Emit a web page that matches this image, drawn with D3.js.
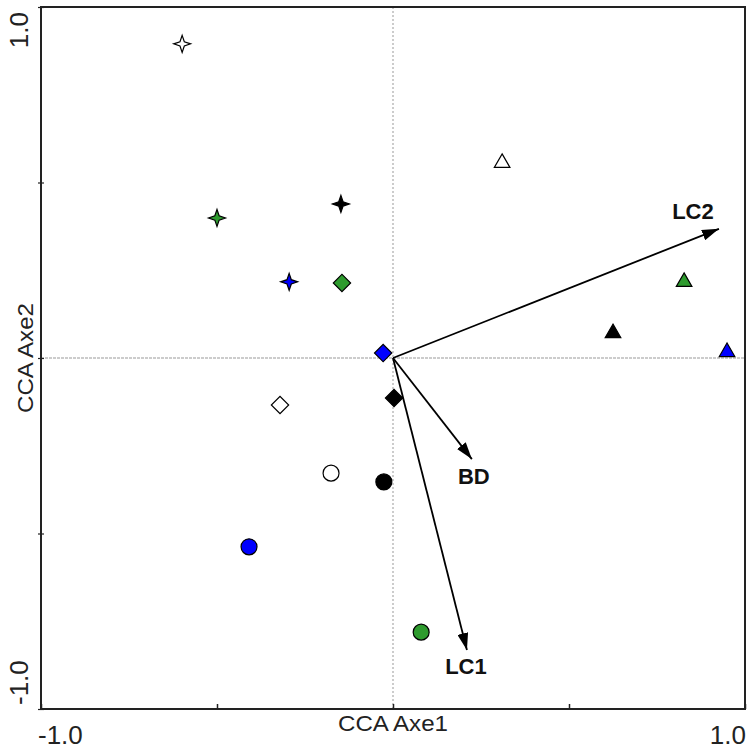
<!DOCTYPE html>
<html>
<head>
<meta charset="utf-8">
<script src="https://cdn.jsdelivr.net/npm/d3@7"></script>
<style>
  body { margin: 0; background: #fff; }
  svg { display: block; font-family: "Liberation Sans", Arial, sans-serif; }
</style>
</head>
<body>
<svg width="754" height="751"></svg>
<script>
// Site scores (CCA axe 1 / axe 2), one entry per marker.
const shapes = ['star', 'star', 'star', 'star', 'diamond', 'diamond', 'diamond', 'diamond',
  'circle', 'circle', 'circle', 'circle', 'triangle', 'triangle', 'triangle', 'triangle'];
const fills = ['white', 'green', 'black', 'blue', 'green', 'blue', 'white', 'black',
  'white', 'black', 'blue', 'green', 'white', 'green', 'black', 'blue'];
const axe1 = [-0.599, -0.500, -0.148, -0.295, -0.145, -0.028, -0.321, 0.003,
  -0.176, -0.026, -0.409, 0.080, 0.310, 0.827, 0.625, 0.949];
const axe2 = [0.895, 0.399, 0.439, 0.217, 0.214, 0.014, -0.134, -0.114,
  -0.328, -0.353, -0.538, -0.781, 0.556, 0.217, 0.071, 0.017];

// Environmental variables (biplot arrows).
const varNames = ['LC2', 'BD', 'LC1'];
const varAxe1 = [0.926, 0.224, 0.210];
const varAxe2 = [0.368, -0.288, -0.832];

const tickValues = [-1, -0.5, 0, 0.5, 1];
const tickLabels = ['-1.0', '1.0'];

const colours = { white: '#ffffff', black: '#000000', blue: '#0000ff', green: '#2e9b2e' };

// 1. Dimensions and scales.
const plot = { left: 41, right: 745, top: 7, bottom: 709 };

const xScale = d3.scaleLinear().domain([-1, 1]).range([plot.left, plot.right]);
const yScale = d3.scaleLinear().domain([-1, 1]).range([plot.bottom, plot.top]);

const svg = d3.select('svg');

// 4-point star symbol.
const star4 = {
  draw(context, size) {
    const R = Math.sqrt(size) * 0.6, r = R * 0.36;
    for (let i = 0; i < 8; i++) {
      const a = i * Math.PI / 4 - Math.PI / 2;
      const rad = i % 2 === 0 ? R : r;
      const px = rad * Math.cos(a), py = rad * Math.sin(a);
      if (i === 0) context.moveTo(px, py); else context.lineTo(px, py);
    }
    context.closePath();
  }
};

const symbolTypes = { star: star4, diamond: d3.symbolSquare, circle: d3.symbolCircle, triangle: d3.symbolTriangle };
const symbolSizes = { star: 200, diamond: 150, circle: 200, triangle: 105 };

// 2. Reference lines through the origin.
svg.append('line')
  .attr('x1', plot.left).attr('x2', plot.right)
  .attr('y1', yScale(0)).attr('y2', yScale(0))
  .style('stroke', '#999').style('stroke-width', 1).style('stroke-dasharray', '3,1');

svg.append('line')
  .attr('x1', xScale(0)).attr('x2', xScale(0))
  .attr('y1', plot.top).attr('y2', plot.bottom)
  .style('stroke', '#999').style('stroke-width', 1).style('stroke-dasharray', '2,2');

// 3. Axes and frame.
svg.append('g')
  .attr('transform', `translate(0,${plot.bottom})`)
  .call(d3.axisBottom(xScale).tickValues(tickValues).tickSize(-5).tickFormat(''))
  .call(g => g.select('.domain').remove())
  .selectAll('line').style('stroke', '#222').style('stroke-width', 1.5);

svg.append('g')
  .attr('transform', `translate(${plot.left + 3},0)`)
  .call(d3.axisLeft(yScale).tickValues(tickValues).tickSize(6).tickFormat(''))
  .call(g => g.select('.domain').remove())
  .selectAll('line').style('stroke', '#222').style('stroke-width', 1.2);

svg.append('rect')
  .attr('x', plot.left).attr('y', plot.top)
  .attr('width', plot.right - plot.left).attr('height', plot.bottom - plot.top)
  .style('fill', 'none').style('stroke', '#222').style('stroke-width', 2);

// Tick labels.
svg.append('text').text(tickLabels[0])
  .attr('x', xScale(-1) - 3).attr('y', 744)
  .style('font-size', '26px').style('fill', '#222');
svg.append('text').text(tickLabels[1])
  .attr('x', xScale(1) + 1).attr('y', 744)
  .attr('text-anchor', 'end')
  .style('font-size', '26px').style('fill', '#222');

svg.append('text').text(tickLabels[1])
  .attr('transform', `translate(28,${yScale(1) + 5}) rotate(-90)`)
  .attr('text-anchor', 'end')
  .style('font-size', '26px').style('fill', '#222');
svg.append('text').text(tickLabels[0])
  .attr('transform', `translate(28,${yScale(-1) - 4}) rotate(-90)`)
  .style('font-size', '26px').style('fill', '#222');

// Axis titles.
svg.append('text').text('CCA Axe1')
  .attr('x', xScale(0)).attr('y', 731)
  .attr('text-anchor', 'middle')
  .attr('textLength', 110).attr('lengthAdjust', 'spacingAndGlyphs')
  .style('font-size', '22px').style('fill', '#222');

svg.append('text').text('CCA Axe2')
  .attr('transform', `translate(33,${yScale(0)}) rotate(-90)`)
  .attr('text-anchor', 'middle')
  .attr('textLength', 110).attr('lengthAdjust', 'spacingAndGlyphs')
  .style('font-size', '22px').style('fill', '#222');

// 4. Biplot arrows.
svg.append('defs').append('marker')
  .attr('id', 'head')
  .attr('markerUnits', 'userSpaceOnUse')
  .attr('viewBox', '0 -5.5 17 11')
  .attr('refX', 17).attr('refY', 0)
  .attr('markerWidth', 17).attr('markerHeight', 11)
  .attr('orient', 'auto')
  .append('path')
  .attr('d', 'M0,-5.5L17,0L0,5.5Z')
  .style('fill', '#000');

svg.selectAll('line.arrow')
  .data(varNames)
  .enter()
  .append('line')
  .attr('class', 'arrow')
  .attr('x1', xScale(0)).attr('y1', yScale(0))
  .attr('x2', (d, i) => xScale(varAxe1[i]))
  .attr('y2', (d, i) => yScale(varAxe2[i]))
  .attr('marker-end', 'url(#head)')
  .style('stroke', '#000').style('stroke-width', 1.8);

const labelOffsets = [[-26, -10], [2, 25], [-1, 24]];

svg.selectAll('text.var')
  .data(varNames)
  .enter()
  .append('text')
  .attr('class', 'var')
  .text(d => d)
  .attr('x', (d, i) => xScale(varAxe1[i]) + labelOffsets[i][0])
  .attr('y', (d, i) => yScale(varAxe2[i]) + labelOffsets[i][1])
  .attr('text-anchor', 'middle')
  .style('font-size', '22px').style('font-weight', 'bold').style('fill', '#111');

// 5. Site markers.
svg.selectAll('path.site')
  .data(shapes)
  .enter()
  .append('path')
  .attr('class', 'site')
  .attr('d', d => d3.symbol().type(symbolTypes[d]).size(symbolSizes[d])())
  .attr('transform', (d, i) => `translate(${xScale(axe1[i])},${yScale(axe2[i])})` + (d === 'diamond' ? ' rotate(45)' : ''))
  .style('fill', (d, i) => colours[fills[i]])
  .style('stroke', '#000')
  .style('stroke-width', 1.2);
</script>
</body>
</html>
